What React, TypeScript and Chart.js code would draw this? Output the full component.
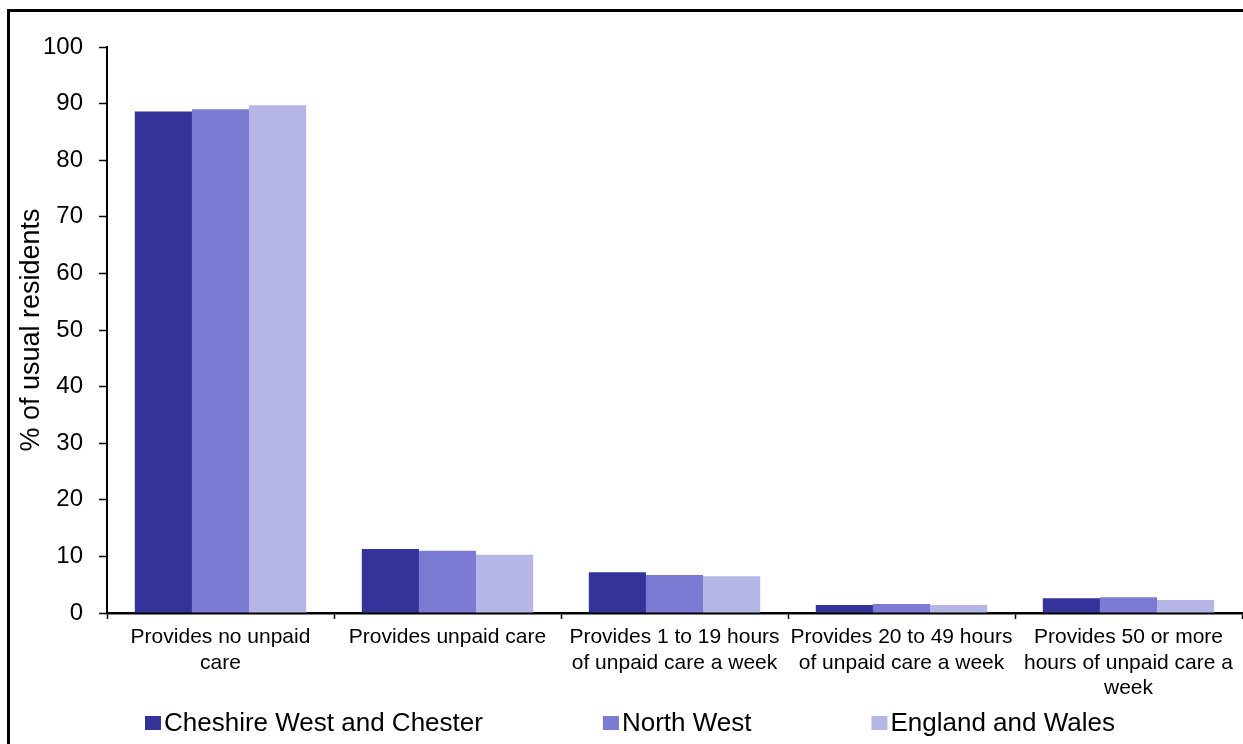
import React, { useEffect, useRef } from "react";
import { Chart, registerables } from "chart.js";

Chart.register(...registerables);

const categories: string[][] = [
  ["Provides no unpaid", "care"],
  ["Provides unpaid care"],
  ["Provides 1 to 19 hours", "of unpaid care a week"],
  ["Provides 20 to 49 hours", "of unpaid care a week"],
  ["Provides 50 or more", "hours of unpaid care a", "week"],
];
const seriesNames = ["Cheshire West and Chester", "North West", "England and Wales"];
const cheshireWestAndChester = [88.6, 11.3, 7.2, 1.4, 2.6];
const northWest = [89.0, 11.0, 6.7, 1.6, 2.8];
const englandAndWales = [89.7, 10.3, 6.5, 1.4, 2.3];
const seriesColors = ["#333399", "#7B7BD3", "#B5B5E6"];
const yAxisTitle = "% of usual residents";
const yMin = 0;
const yMax = 100;
const yStep = 10;

const FONT = "'Liberation Sans', Arial, Helvetica, sans-serif";

const bottomLegend = {
  id: "bottomLegend",
  afterDraw(chart: any) {
    const ctx = chart.ctx as CanvasRenderingContext2D;
    ctx.save();
    ctx.font = `26px ${FONT}`;
    ctx.textBaseline = "middle";
    ctx.textAlign = "left";
    let x = 145;
    const y = chart.height - 21;
    chart.data.datasets.forEach((ds: any) => {
      ctx.fillStyle = ds.backgroundColor;
      ctx.fillRect(x, y - 7, 16, 14);
      ctx.fillStyle = "#000";
      ctx.fillText(ds.label, x + 19, y + 1);
      x += 19 + ctx.measureText(ds.label).width + 120;
    });
    ctx.restore();
  },
};

export default function App() {
  const canvasRef = useRef<HTMLCanvasElement | null>(null);

  useEffect(() => {
    if (!canvasRef.current) return;
    const values = [cheshireWestAndChester, northWest, englandAndWales];
    const chart = new Chart(canvasRef.current, {
      type: "bar",
      data: {
        labels: categories,
        datasets: seriesNames.map((name, i) => ({
          label: name,
          data: values[i],
          backgroundColor: seriesColors[i],
          borderWidth: 0,
          barPercentage: 1,
          categoryPercentage: 0.755,
        })),
      },
      options: {
        animation: false,
        responsive: true,
        maintainAspectRatio: false,
        devicePixelRatio: 1,
        layout: { padding: { top: 47, right: 1, bottom: 44, left: 0 } },
        plugins: {
          legend: { display: false },
          tooltip: { enabled: false },
        },
        scales: {
          x: {
            afterFit: (scale: any) => {
              scale.height = 87;
            },
            grid: {
              offset: true,
              drawOnChartArea: false,
              drawTicks: true,
              tickLength: 6,
              tickColor: "#000",
              tickWidth: 1.5,
            },
            border: { color: "#000", width: 2.5 },
            ticks: {
              color: "#000",
              font: { family: FONT, size: 21, lineHeight: 1.2 },
              padding: 6,
              maxRotation: 0,
              autoSkip: false,
            },
          },
          y: {
            min: yMin,
            max: yMax,
            afterFit: (scale: any) => {
              scale.width = 107;
            },
            grid: {
              drawOnChartArea: false,
              drawTicks: true,
              tickLength: 8,
              tickColor: "#000",
              tickWidth: 1.5,
            },
            border: { color: "#000", width: 2 },
            ticks: {
              stepSize: yStep,
              color: "#000",
              font: { family: FONT, size: 24 },
              padding: 16,
            },
            title: {
              display: true,
              text: yAxisTitle,
              color: "#000",
              font: { family: FONT, size: 27 },
              padding: { top: 15, bottom: 0 },
            },
          },
        },
      },
      plugins: [bottomLegend],
    });
    return () => chart.destroy();
  }, []);

  return (
    <>
      <div
        style={{
          position: "fixed",
          left: 7,
          top: 9,
          width: 1236,
          height: 735,
          boxSizing: "border-box",
          borderLeft: "3px solid #000",
          borderTop: "3px solid #000",
          background: "#fff",
        }}
      />
      <div style={{ position: "fixed", left: 0, top: 0, width: 1243, height: 744 }}>
        <canvas ref={canvasRef} />
      </div>
    </>
  );
}
